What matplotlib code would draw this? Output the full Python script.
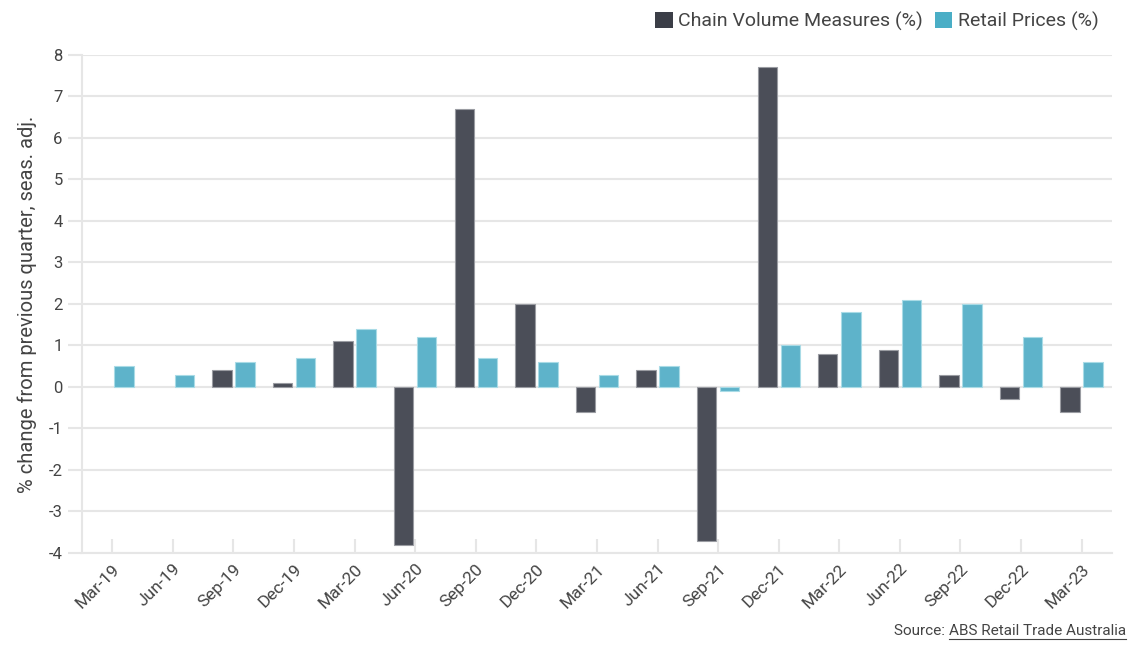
import matplotlib
matplotlib.use("Agg")
import matplotlib.pyplot as plt
from matplotlib.patches import Patch
import numpy as np

plt.rcParams['font.family'] = ['Roboto', 'DejaVu Sans']

quarters = ["Mar-19", "Jun-19", "Sep-19", "Dec-19", "Mar-20", "Jun-20", "Sep-20", "Dec-20",
            "Mar-21", "Jun-21", "Sep-21", "Dec-21", "Mar-22", "Jun-22", "Sep-22", "Dec-22", "Mar-23"]
chain_volume = [0.0, 0.0, 0.4, 0.1, 1.1, -3.8, 6.7, 2.0, -0.6, 0.4, -3.7, 7.7, 0.8, 0.9, 0.3, -0.3, -0.6]
retail_prices = [0.5, 0.3, 0.6, 0.7, 1.4, 1.2, 0.7, 0.6, 0.3, 0.5, -0.1, 1.0, 1.8, 2.1, 2.0, 1.2, 0.6]
y_ticks = [-4, -3, -2, -1, 0, 1, 2, 3, 4, 5, 6, 7, 8]

c_chain = "#4b4e58"
c_retail = "#5eb3ca"
grid_c = "#e6e6e6"
text_c = "#444444"

fig = plt.figure(figsize=(11.3, 6.46), dpi=100)
ax = fig.add_axes([0.0726, 0.144, 0.9114, 0.771])

x = np.arange(len(quarters))
w = 0.32
off = 0.19
lw_chain = [0.8 if v != 0 else 0 for v in chain_volume]
lw_retail = [0.8 if v != 0 else 0 for v in retail_prices]
ax.bar(x - off, chain_volume, width=w, color=c_chain, edgecolor="#9a9ca2", linewidth=lw_chain, zorder=3)
ax.bar(x + off, retail_prices, width=w, color=c_retail, edgecolor="#a9dbe6", linewidth=lw_retail, zorder=3)

ax.set_xlim(-0.5, len(quarters) - 0.5)
ax.set_ylim(-4, 8)
ax.set_yticks(y_ticks)
ax.set_yticklabels([str(v) for v in y_ticks])
ax.set_xticks(x)
ax.set_xticklabels(quarters, rotation=45, ha="right", rotation_mode="anchor")

ax.grid(axis="y", color=grid_c, linewidth=1.5, zorder=0)
for s in ["top", "right"]:
    ax.spines[s].set_visible(False)
for s in ["left", "bottom"]:
    ax.spines[s].set_color(grid_c)
    ax.spines[s].set_linewidth(1.5)
ax.tick_params(axis="y", colors=grid_c, length=10, width=1.5, labelcolor=text_c, labelsize=12, pad=4)
ax.tick_params(axis="x", direction="in", colors=grid_c, length=10, width=1.5, labelcolor=text_c, labelsize=12.5, pad=6)

ax.set_ylabel("% change from previous quarter, seas. adj.", fontsize=14.5, color=text_c, labelpad=8)

handles = [Patch(facecolor="#3b3e47", edgecolor="none"), Patch(facecolor="#4aaec6", edgecolor="none")]
fig.legend(handles, ["Chain Volume Measures (%)", "Retail Prices (%)"], loc="upper right",
           bbox_to_anchor=(0.988, 1.009), ncol=2, frameon=False, fontsize=14,
           handlelength=0.9, handleheight=0.9, handletextpad=0.3, columnspacing=0.6,
           labelcolor=text_c)

src1 = fig.text(0.9965, 0.012, "ABS Retail Trade Australia", ha="right", va="bottom", fontsize=11, color=text_c)
fig.canvas.draw()
r = fig.canvas.get_renderer()
bb = src1.get_window_extent(r)
fig.text(bb.x0 / fig.bbox.width, 0.012, "Source: ", ha="right", va="bottom", fontsize=11, color=text_c)
uy = (bb.y0 - 1) / fig.bbox.height
fig.add_artist(plt.Line2D([bb.x0 / fig.bbox.width, bb.x1 / fig.bbox.width], [uy, uy],
                          transform=fig.transFigure, color=text_c, linewidth=0.8))

fig.savefig("out.png", dpi=100)
